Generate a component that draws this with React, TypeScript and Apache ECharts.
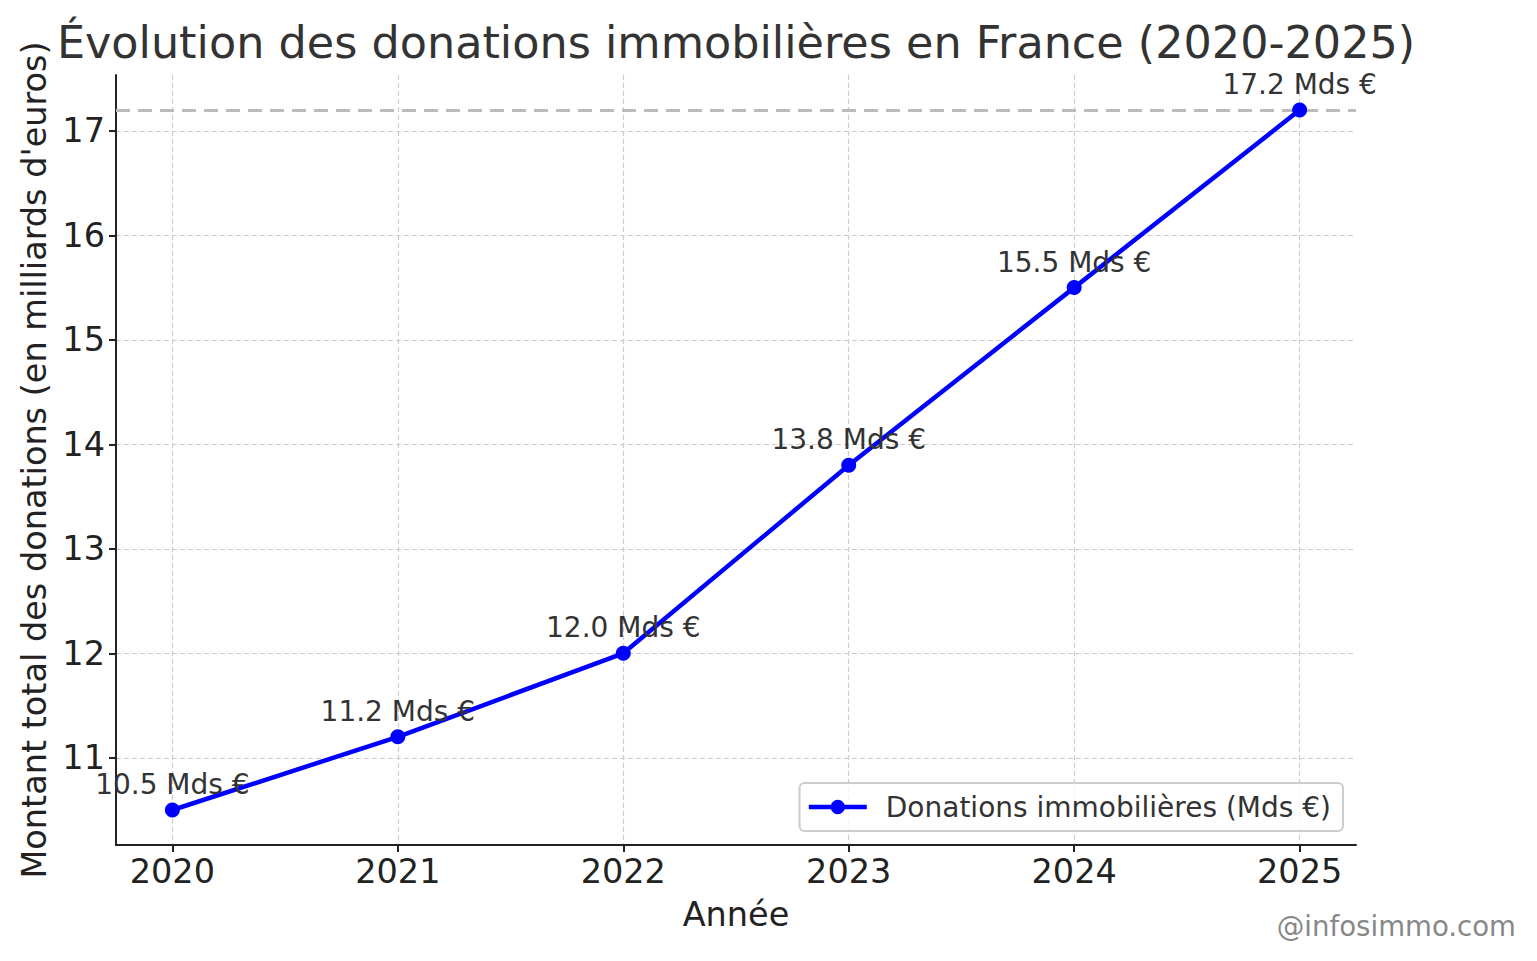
import React, { useEffect, useRef } from "react";
import * as echarts from "echarts";

const years = [2020, 2021, 2022, 2023, 2024, 2025];
const amounts = [10.5, 11.2, 12.0, 13.8, 15.5, 17.2];
const yTicks = [11, 12, 13, 14, 15, 16, 17];
const refLevel = 17.2;
const titleText = "Évolution des donations immobilières en France (2020-2025)";
const seriesName = "Donations immobilières (Mds €)";
const xName = "Année";
const yName = "Montant total des donations (en milliards d'euros)";
const watermark = "@infosimmo.com";

const FONT = "DejaVu Sans";

export default function App() {
  const ref = useRef<HTMLDivElement>(null);
  useEffect(() => {
    const chart = echarts.init(ref.current!, null, { renderer: "svg" });
    const data = years.map((y, i) => [y, amounts[i]]);
    chart.setOption({
      animation: false,
      backgroundColor: "#ffffff",
      textStyle: { fontFamily: FONT },
      grid: { left: 116, right: 181, top: 75, bottom: 116 },
      graphic: [
        {
          type: "text",
          x: 736,
          y: 42,
          style: {
            text: titleText,
            font: `44.5px '${FONT}'`,
            fill: "#333333",
            textAlign: "center",
            textVerticalAlign: "middle",
          },
        },
        {
          type: "text",
          x: 1516,
          y: 926,
          style: {
            text: watermark,
            font: `27.6px '${FONT}'`,
            fill: "#888888",
            textAlign: "right",
            textVerticalAlign: "middle",
          },
        },
      ],
      legend: {
        right: 194,
        bottom: 130,
        orient: "horizontal",
        data: [seriesName],
        itemWidth: 58,
        itemHeight: 18,
        itemGap: 10,
        padding: [10, 12, 10, 7],
        borderColor: "#cccccc",
        borderWidth: 2,
        borderRadius: 5,
        backgroundColor: "rgba(255,255,255,0.8)",
        lineStyle: { width: 4.5 },
        textStyle: { fontSize: 28, color: "#333333", fontFamily: FONT, padding: [0, 0, 0, 14] },
      },
      xAxis: {
        type: "value",
        min: 2019.75,
        max: 2025.25,
        name: xName,
        nameLocation: "middle",
        nameGap: 52,
        nameTextStyle: { fontSize: 33.5, color: "#222222", fontFamily: FONT },
        axisLine: { lineStyle: { color: "#222222", width: 2 } },
        axisTick: { show: true, length: 7, lineStyle: { color: "#222222", width: 2 }, customValues: years },
        axisLabel: {
          fontSize: 33.5,
          color: "#222222",
          margin: 9,
          customValues: years,
          formatter: (v: number) => String(Math.round(v)),
        },
        splitLine: { show: true, lineStyle: { color: "#cccccc", type: [5, 3], width: 1.2 } },
      },
      yAxis: {
        type: "value",
        min: 10.165,
        max: 17.535,
        name: yName,
        nameLocation: "middle",
        nameGap: 64,
        nameTextStyle: { fontSize: 33.5, color: "#222222", fontFamily: FONT },
        axisLine: { show: true, lineStyle: { color: "#222222", width: 2 } },
        axisTick: { show: true, length: 7, lineStyle: { color: "#222222", width: 2 }, customValues: yTicks },
        axisLabel: {
          fontSize: 33.5,
          color: "#222222",
          margin: 11,
          customValues: yTicks,
          formatter: (v: number) => String(Math.round(v)),
        },
        splitLine: { show: true, lineStyle: { color: "#cccccc", type: [5, 3], width: 1.2 } },
      },
      series: [
        {
          name: seriesName,
          type: "line",
          data,
          symbol: "circle",
          symbolSize: 15,
          itemStyle: { color: "#0000ff" },
          lineStyle: { color: "#0000ff", width: 4.5 },
          label: {
            show: true,
            position: "top",
            distance: 4,
            fontSize: 28,
            color: "#333333",
            fontFamily: FONT,
            formatter: (p: any) => `${p.value[1].toFixed(1)} Mds €`,
          },
          markLine: {
            silent: true,
            symbol: "none",
            label: { show: false },
            lineStyle: { color: "#bbbbbb", type: [14, 8], width: 3 },
            data: [{ yAxis: refLevel }],
            z: 1,
          },
          z: 3,
        },
      ],
    });
    return () => chart.dispose();
  }, []);
  return (
    <div
      ref={ref}
      style={{ position: "fixed", left: 0, top: 0, width: 1537, height: 961, background: "#fff" }}
    />
  );
}
